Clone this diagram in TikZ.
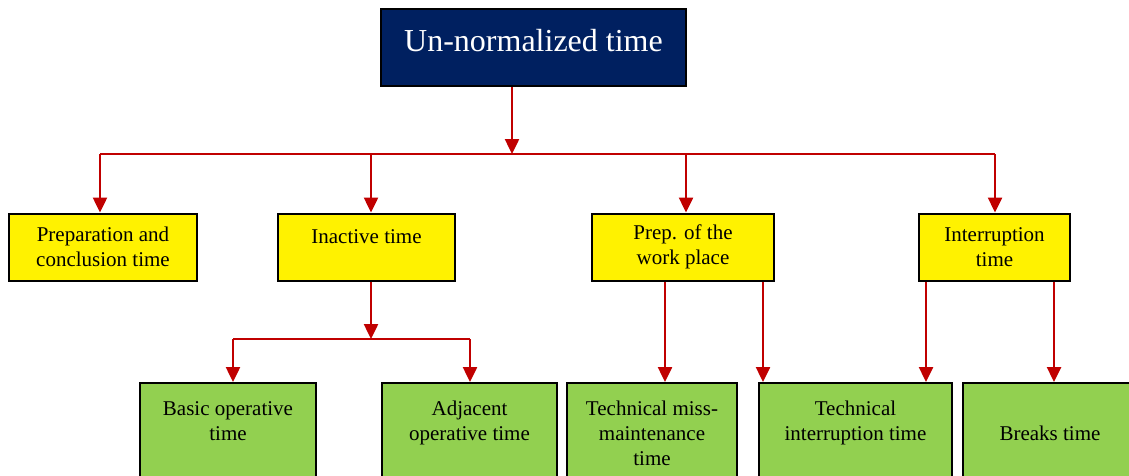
\documentclass[tikz,border=0pt]{standalone}
\usepackage{fontspec}
\setmainfont{Liberation Serif}
\usetikzlibrary{arrows.meta}
\definecolor{navy}{HTML}{002060}
\definecolor{leaf}{HTML}{92D050}
\definecolor{darkred}{HTML}{C00000}

\begin{document}
\begin{tikzpicture}[x=1pt,y=-1pt]
\useasboundingbox (0,0) rectangle (1129,476);

\tikzset{box/.style = {draw=black, line width=2pt, inner sep=0pt, align=center, font=\fontsize{21}{25}\selectfont}}
\tikzset{ybox/.style = {box, fill=yellow, minimum height=67pt}}
\tikzset{gbox/.style = {box, fill=leaf, minimum height=100pt}}
\tikzset{wire/.style = {darkred, line width=2.5pt}}
\tikzset{edge/.style = {wire, -{Triangle[width=14pt,length=15pt]}}}

% boxes
\node[draw=black, line width=2pt, fill=navy, text=white, inner sep=0pt,
      minimum width=305pt, minimum height=77pt, text height=22pt, text depth=14pt,
      font=\fontsize{32}{36}\selectfont] (top) at (533.5,47.5) {Un-normalized time};

\node[ybox, minimum width=188pt] (prep) at (103,247) {Preparation and\\conclusion time};
\node[ybox, minimum width=177pt] (inactive) at (366.5,247) {Inactive time\\[-11pt]\strut};
\node[ybox, minimum width=182pt] (work) at (683,247) {Prep. of the\\work place};
\node[ybox, minimum width=151pt] (interrupt) at (994.5,247) {Interruption\\time};

\node[gbox, minimum width=176pt] (basic) at (228,433) {Basic operative\\time\\[-8pt]\strut};
\node[gbox, minimum width=175pt] (adjacent) at (469.5,433) {Adjacent\\operative time\\[-8pt]\strut};
\node[gbox, minimum width=170pt] (miss) at (652,433) {Technical miss-\\maintenance\\time};
\node[gbox, minimum width=193pt] (techint) at (855.5,433) {Technical\\interruption time\\[-8pt]\strut};
\node[gbox, minimum width=174pt] (breaks) at (1050,433) {Breaks time};

% junctions
\coordinate (hub) at (512,154);
\coordinate (b1) at (100,154);
\coordinate (b2) at (371,154);
\coordinate (b3) at (686,154);
\coordinate (b4) at (995,154);
\coordinate (sub) at (371,339);
\coordinate (s1) at (233,339);
\coordinate (s2) at (470,339);
\coordinate (w1) at (665,280);
\coordinate (w2) at (763,280);
\coordinate (i1) at (926,280);
\coordinate (i2) at (1054,280);

% edges
\draw[edge] (top.south -| hub) -- (hub);
\draw[wire] (b1) -- (b4);
\draw[edge] (b1) -- (b1 |- prep.north);
\draw[edge] (b2) -- (b2 |- inactive.north);
\draw[edge] (b3) -- (b3 |- work.north);
\draw[edge] (b4) -- (b4 |- interrupt.north);

\draw[edge] (inactive.south -| sub) -- (sub);
\draw[wire] (s1) -- (s2);
\draw[edge] (s1) -- (s1 |- basic.north);
\draw[edge] (s2) -- (s2 |- adjacent.north);

\draw[edge] (w1 |- work.south) -- (w1 |- miss.north);
\draw[edge] (w2 |- work.south) -- (w2 |- techint.north);
\draw[edge] (i1 |- interrupt.south) -- (i1 |- techint.north);
\draw[edge] (i2 |- interrupt.south) -- (i2 |- breaks.north);

\end{tikzpicture}
\end{document}
